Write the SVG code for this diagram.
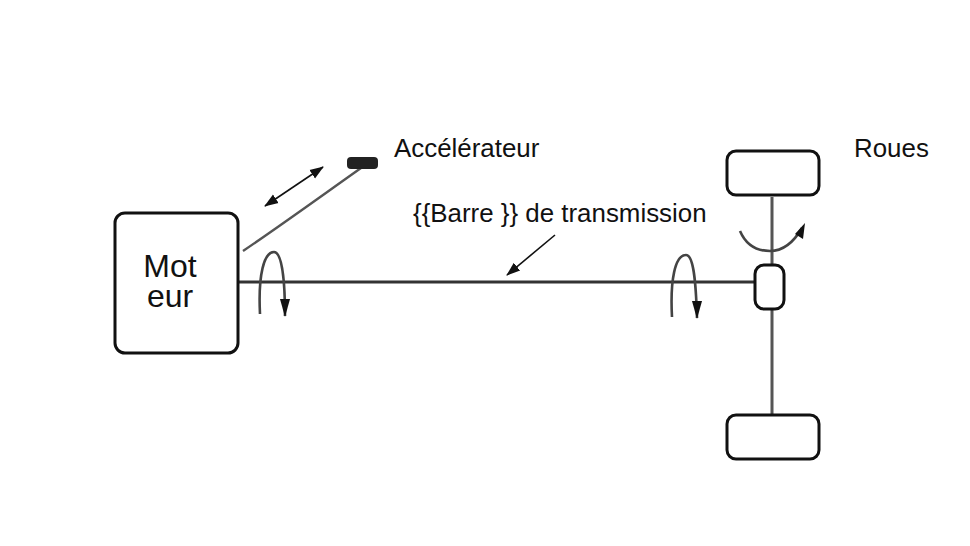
<svg xmlns="http://www.w3.org/2000/svg" width="970" height="546" viewBox="0 0 970 546">
<defs>
<marker id="a" markerUnits="userSpaceOnUse" markerWidth="14" markerHeight="18" refX="13" refY="5" orient="auto-start-reverse" viewBox="0 0 14 10"><path d="M0 0L14 5L0 10Z" fill="#111"/></marker>
</defs>
<style>
.n{fill:#fff;stroke:#111;stroke-width:3}
text{font-family:"Liberation Sans",Arial,sans-serif;fill:#111}
.t{font-size:25.9px}
.m{font-size:32px;text-anchor:middle}
.s{fill:none;stroke:#333;stroke-width:3}
.w{fill:none;stroke:#555;stroke-width:3}
.r{fill:none;stroke:#444;stroke-width:2.6}
.k{fill:none;stroke:#111;stroke-width:1.6}
</style>
<g id="connectors">
<path class="s" d="M239 282H755"/>
<path class="w" d="M772 197V266M772 308V415"/>
<path d="M243 251C280 226 320 197 361 168" fill="none" stroke="#555" stroke-width="2.4"/>
<path class="k" d="M265 206L323 167" marker-start="url(#a)" marker-end="url(#a)"/>
<path class="k" d="M555 235L507 275" marker-end="url(#a)"/>
<path class="r" d="M260 314C258 275 264 252 274 252C282 252 285 280 285 316"/>
<path d="M280 299H290L285 317Z" fill="#111"/>
<path class="r" d="M672 317C670 280 675 255 686 255C694 255 696 285 697 318"/>
<path d="M692 301H702L697 319Z" fill="#111"/>
<path class="r" d="M740 231C746 245 757 251 770 251C784 251 795 240 802 228"/>
<path d="M805 223L795 234L803 239Z" fill="#111"/>
</g>
<g id="motor"><rect class="n" x="115" y="213" width="123" height="140" rx="10"/><text class="m"><tspan x="170" y="277">Mot</tspan><tspan x="170" y="307">eur</tspan></text></g>
<g id="pedal"><rect x="347" y="157" width="31" height="12" rx="4" fill="#222"/></g>
<g id="wheel-top"><rect class="n" x="727" y="151" width="92" height="44" rx="9"/></g>
<g id="wheel-bottom"><rect class="n" x="727" y="415" width="92" height="44" rx="9"/></g>
<g id="diff"><rect class="n" x="755" y="265" width="29" height="44" rx="9"/></g>
<text class="t" x="394" y="157">Accélérateur</text>
<text class="t" x="854" y="157">Roues</text>
<text class="t" x="413" y="222">{{Barre }} de transmission</text>
</svg>
